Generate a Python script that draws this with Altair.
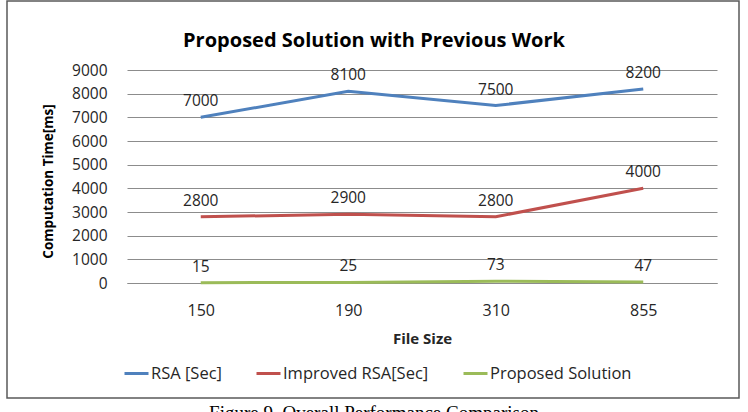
import altair as alt
import pandas as pd

file_sizes = ["150", "190", "310", "855"]
series_names = ["RSA [Sec]", "Improved RSA[Sec]", "Proposed Solution"]
rsa = [7000, 8100, 7500, 8200]
improved = [2800, 2900, 2800, 4000]
proposed = [15, 25, 73, 47]
colors = ["#4f81bd", "#c0504d", "#9bbb59"]
y_ticks = [0, 1000, 2000, 3000, 4000, 5000, 6000, 7000, 8000, 9000]
chart_title = "Proposed Solution with Previous Work"
caption_text = "Figure 9. Overall Performance Comparison"

rows = []
for name, vals in zip(series_names, [rsa, improved, proposed]):
    for fs, v in zip(file_sizes, vals):
        rows.append({"size": fs, "series": name, "value": v})
df = pd.DataFrame(rows)

FONT = "Open Sans"

x_enc = alt.X(
    "size:O",
    sort=file_sizes,
    scale=alt.Scale(type="point", padding=0.5),
    axis=alt.Axis(
        title="File Size", labelAngle=0, labelFont=FONT, labelFontSize=16,
        labelColor="#262626", labelPadding=19, ticks=False, domain=True,
        domainColor="#8c8c8c", titleFont=FONT, titleFontSize=15,
        titleFontWeight="bold", titleColor="#262626", titleY=55,
        titleBaseline="middle",
    ),
)
y_enc = alt.Y(
    "value:Q",
    scale=alt.Scale(domain=[0, 9000], nice=False),
    axis=alt.Axis(
        values=y_ticks, format="d", grid=True, gridColor="#8c8c8c",
        gridWidth=1, domain=False, ticks=False, labelPadding=20,
        labelFont=FONT, labelFontSize=15.5, labelColor="#262626",
        title="Computation Time[ms]", titleFont=FONT, titleFontSize=13.5,
        titleFontWeight="bold", titleColor="#000000", titleX=-79,
        titleY=111, titleAngle=270, titleAlign="center",
        titleBaseline="middle",
    ),
)

base = alt.Chart(df)

lines = base.mark_line(strokeWidth=3).encode(
    x=x_enc,
    y=y_enc,
    color=alt.Color(
        "series:N",
        sort=series_names,
        scale=alt.Scale(domain=series_names, range=colors),
        legend=alt.Legend(
            title=None, orient="none", direction="horizontal",
            legendX=-4, legendY=290, symbolType="stroke",
            symbolStrokeWidth=3, symbolSize=576, labelFont=FONT,
            labelFontSize=16.5, labelColor="#262626", columnPadding=28,
            labelOffset=1,
        ),
    ),
    order=alt.Order("size:O"),
)

labels = base.mark_text(dy=-16, fontSize=15.5, font=FONT, color="#262626").encode(
    x=x_enc,
    y=y_enc,
    text="value:Q",
)

border = alt.Chart(pd.DataFrame({"k": [0]})).mark_rect(
    fillOpacity=0, stroke="#595959", strokeWidth=1.5
).encode(
    x=alt.value(-120), x2=alt.value(612), y=alt.value(-69), y2=alt.value(328)
)

title_mark = alt.Chart(pd.DataFrame({"t": [chart_title]})).mark_text(
    font=FONT, fontSize=20, fontWeight="bold", baseline="middle",
    align="center", color="#000000",
).encode(
    text="t:N", x=alt.value(247), y=alt.value(-29)
)

caption = alt.Chart(pd.DataFrame({"t": [caption_text]})).mark_text(
    font="Liberation Serif", fontSize=19, baseline="top", align="center",
    color="#000000",
).encode(
    text="t:N", x=alt.value(247), y=alt.value(334)
)

chart = alt.layer(border, lines, labels, title_mark, caption).properties(
    width=590,
    height=213,
    autosize=alt.AutoSizeParams(type="none"),
    padding={"left": 127, "top": 70, "right": 31, "bottom": 129},
    background="white",
).configure_view(strokeWidth=0)

chart.save("out.html", embed_options={"renderer": "svg", "actions": False})
